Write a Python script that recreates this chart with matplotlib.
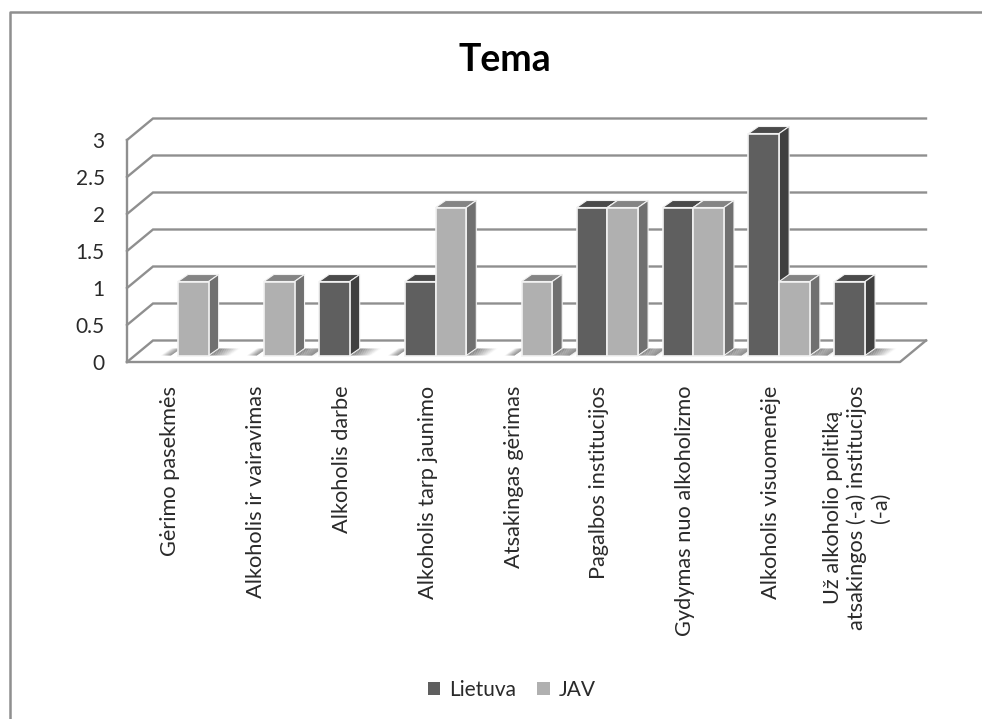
#!/bin/python3
from matplotlib import pyplot as plt
from matplotlib.patches import Patch, Polygon
from matplotlib.lines import Line2D

plt.rcParams['font.family'] = ['Lato', 'DejaVu Sans']

# Donnees (None = pas de barre)
temos = ["Gėrimo pasekmės", "Alkoholis ir vairavimas", "Alkoholis darbe",
         "Alkoholis tarp jaunimo", "Atsakingas gėrimas", "Pagalbos institucijos",
         "Gydymas nuo alkoholizmo", "Alkoholis visuomenėje",
         "Už alkoholio politiką\natsakingos (-a) institucijos\n(-a)"]
lietuva = [None, None, 1, 1, None, 2, 2, 3, 1]
jav = [1, 1, None, 2, 1, 2, 2, 1, None]
y_ticks = [0, 0.5, 1, 1.5, 2, 2.5, 3]
y_labels = ["0", "0.5", "1", "1.5", "2", "2.5", "3"]

W, H = 982, 719
GRIS = '#8f8f8f'
TEXTE = '#2a2a2a'

fig = plt.figure(figsize=(W / 100, H / 100), dpi=100, facecolor='white')

# cadre gauche et haut de l'image
fig.add_artist(Line2D([10 / W, 10 / W, 1], [0, 1 - 12 / H, 1 - 12 / H], color=GRIS, lw=1.8))

ax = fig.add_axes([127 / W, 1 - 362 / H, 773 / W, 222 / H])
ax.set_xlim(-0.5, 8.5)
ax.set_ylim(0, 3)
for s in ax.spines.values():
    s.set_visible(False)

# passage pixels -> unites des axes
px = 9 / 773
py = 3 / 222
prof_x, prof_y = 26 * px, 21.5 * py
larg = 30.7 * px
dec_x, dec_y = 8 * px, 6.5 * py
cote_x, cote_y = 10 * px, 7 * py
x0, x1 = ax.get_xlim()

# murs et sol en fausse 3D
for v in y_ticks:
    ax.plot([x0, x0 + prof_x, x1 + prof_x], [v, v + prof_y, v + prof_y],
            color=GRIS, lw=1.7, clip_on=False, zorder=1, solid_joinstyle='miter')
ax.plot([x0, x0], [0, 3], color=GRIS, lw=1.7, clip_on=False, zorder=1)
ax.plot([x0, x1, x1 + prof_x], [0, 0, prof_y], color=GRIS, lw=1.7, clip_on=False, zorder=1)


def ombre(xa, xb, base):
    # ombre degradee posee sur le sol
    n = 12
    for k in range(n):
        xg = xa + (xb - xa) * k / n
        xd = xa + (xb - xa) * (k + 1) / n
        a = 0.95 * (1 - (k + 0.5) / n)
        ax.add_patch(Polygon([(xg, base), (xd, base), (xd + cote_x, base + cote_y),
                              (xg + cote_x, base + cote_y)], closed=True, fc='#6a6a6a',
                             ec='none', alpha=a, zorder=1.5, clip_on=False))


def barre(x, v, face, dessus, cote, z):
    xg = x + dec_x
    ax.bar(xg, v, width=larg, bottom=dec_y, align='edge', color=face, edgecolor='#f2f2f2',
           linewidth=1.2, zorder=z + 0.2, clip_on=False)
    h = v + dec_y
    ax.add_patch(Polygon([(xg, h), (xg + larg, h), (xg + larg + cote_x, h + cote_y),
                          (xg + cote_x, h + cote_y)], closed=True, fc=dessus, ec='#f2f2f2',
                         lw=0.8, zorder=z, clip_on=False))
    ax.add_patch(Polygon([(xg + larg, dec_y), (xg + larg + cote_x, dec_y + cote_y),
                          (xg + larg + cote_x, h + cote_y), (xg + larg, h)], closed=True,
                         fc=cote, ec='#f2f2f2', lw=0.8, zorder=z, clip_on=False))


for i in range(len(temos)):
    # ombres a gauche et a droite du groupe
    g = i - larg if lietuva[i] is not None else i
    d = i + larg if jav[i] is not None else i
    ombre(g + dec_x - cote_x * 0.7, g + dec_x - 0.2, dec_y)
    ombre(d + dec_x, d + dec_x + 0.25, dec_y)
    if lietuva[i] is not None:
        barre(i - larg, lietuva[i], '#5f5f5f', '#4a4a4a', '#404040', 3)
    if jav[i] is not None:
        barre(i, jav[i], '#b0b0b0', '#848484', '#707070', 4)

ax.set_yticks(y_ticks)
ax.set_yticklabels(y_labels, fontsize=15, color=TEXTE)
ax.set_xticks(range(len(temos)))
ax.set_xticklabels(temos, rotation=90, fontsize=15.7, color=TEXTE, ha='center', va='top',
                   multialignment='center', linespacing=1.22)
ax.tick_params(axis='x', length=0, pad=17)
ax.tick_params(axis='y', length=0, pad=16)

fig.text(505 / W, 1 - 60 / H, "Tema", fontsize=27, fontweight='bold', color='black',
         ha='center', va='center')

fig.legend(handles=[Patch(fc='#5f5f5f', label="Lietuva"), Patch(fc='#b0b0b0', label="JAV")],
           loc='center', bbox_to_anchor=(512 / W, 1 - 690 / H), ncol=2, frameon=False,
           fontsize=15, handlelength=0.6, handleheight=0.6, handletextpad=0.45,
           columnspacing=1.0, labelcolor=TEXTE)

fig.savefig('out.png', dpi=100)
